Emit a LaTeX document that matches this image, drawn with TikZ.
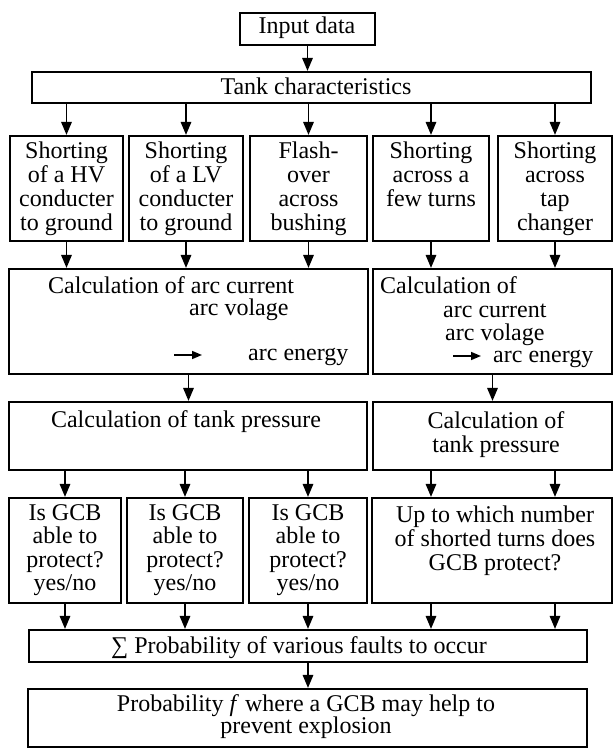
\documentclass[tikz,border=0pt]{standalone}
\usepackage{fontspec}
\setmainfont{Liberation Serif}
\usetikzlibrary{arrows.meta}
\tikzset{
  box/.style={draw, line width=2.2pt, inner sep=0pt, rectangle},
  txt/.style={anchor=base, inner sep=0pt, font=\fontsize{24}{24}\selectfont},
  txtl/.style={txt, anchor=base west},
  arr/.style={line width=1.6pt, -{Triangle[length=13pt,width=10.5pt]}},
  sarr/.style={line width=1.6pt, -{Triangle[length=10pt,width=8pt]}}
}
\newcommand\bx[5]{\node[box, minimum width={(#4-#2)*1pt}, minimum height={(#5-#3)*1pt}] (#1) at ({(#2+#4)/2},{(#3+#5)/2}) {};}
\newcommand\tl[5]{\foreach \lin [count=\i from 0] in {#5} {\node[txt] (#1\i) at (#2,{#3+#4*\i}) {\lin};}}
\begin{document}
\begin{tikzpicture}[x=1pt,y=-1pt]
\useasboundingbox (0,0) rectangle (614,749);
% boxes
\bx{in}{240}{13}{375}{45}
\bx{tank}{32}{72}{591}{103}
\bx{b1}{10}{136}{123}{241}
\bx{b2}{129}{136}{243}{241}
\bx{b3}{250}{136}{367}{241}
\bx{b4}{373}{136}{489}{241}
\bx{b5}{498}{136}{612}{241}
\bx{cL}{9}{269}{368}{374}
\bx{cR}{373}{269}{612}{374}
\bx{pL}{9}{402}{367}{470}
\bx{pR}{373}{402}{612}{470}
\bx{g1}{9}{498}{121}{603}
\bx{g2}{127}{498}{243}{603}
\bx{g3}{249}{498}{367}{603}
\bx{g4}{372}{498}{612}{603}
\bx{sum}{29}{630}{587}{662}
\bx{fin}{28}{689}{587}{747}
% texts
\tl{int}{307}{34}{24}{Input data}
\tl{tankt}{316}{95}{24}{Tank characteristics}
\tl{b1t}{66.5}{158}{24.2}{Shorting, of a HV, conducter, to ground}
\tl{b2t}{186}{158}{24.2}{Shorting, of a LV, conducter, to ground}
\tl{b3t}{308.5}{158}{24.2}{Flash-, over, across, bushing}
\tl{b4t}{431}{158}{24.2}{Shorting, across a, few turns}
\tl{b5t}{555}{158}{24.2}{Shorting, across, tap, changer}
\node[txtl] (cLa) at (48,293) {Calculation of arc current};
\node[txtl] (cLb) at (189,315) {arc volage};
\node[txtl] (cLc) at (248,360) {arc energy};
\coordinate (cLp) at (174,355);
\coordinate (cLq) at (202,355);
\draw[sarr] (cLp) -- (cLq);
\node[txtl] (cRa) at (380,293) {Calculation of};
\node[txtl] (cRb) at (443,317) {arc current};
\node[txtl] (cRc) at (445,340) {arc volage};
\node[txtl] (cRd) at (493,362) {arc energy};
\coordinate (cRp) at (453,356);
\coordinate (cRq) at (481,356);
\draw[sarr] (cRp) -- (cRq);
\tl{pLt}{186}{427}{24}{Calculation of tank pressure}
\tl{pRt}{496}{428}{24}{Calculation of, tank pressure}
\tl{g1t}{65}{520}{23.5}{Is GCB, able to, protect?, yes/no}
\tl{g2t}{185}{520}{23.5}{Is GCB, able to, protect?, yes/no}
\tl{g3t}{308}{520}{23.5}{Is GCB, able to, protect?, yes/no}
\tl{g4t}{495}{522}{24}{Up to which number, of shorted turns does, GCB protect?}
\tl{sumt}{299}{653}{24}{∑ Probability of various faults to occur}
\tl{fint}{306}{711}{22.6}{Probability \textit{f} where a GCB may help to, prevent explosion}
% connectors
\draw[arr] (in.south) -- (in.south |- tank.north);
\foreach \b in {b1,b2,b3,b4,b5} {\draw[arr] (\b.north |- tank.south) -- (\b.north);}
\foreach \b in {b1,b2,b3} {\draw[arr] (\b.south) -- (\b.south |- cL.north);}
\foreach \b in {b4,b5} {\draw[arr] (\b.south) -- (\b.south |- cR.north);}
\draw[arr] (cL.south) -- (cL.south |- pL.north);
\draw[arr] (cR.south) -- (cR.south |- pR.north);
\foreach \g in {g1,g2,g3} {\draw[arr] (\g.north |- pL.south) -- (\g.north);}
\foreach \b in {b4,b5} {\draw[arr] (\b.south |- pR.south) -- (\b.south |- g4.north);}
\foreach \g in {g1,g2,g3} {\draw[arr] (\g.south) -- (\g.south |- sum.north);}
\foreach \b in {b4,b5} {\draw[arr] (\b.south |- g4.south) -- (\b.south |- sum.north);}
\draw[arr] (sum.south) -- (sum.south |- fin.north);
\end{tikzpicture}
\end{document}
